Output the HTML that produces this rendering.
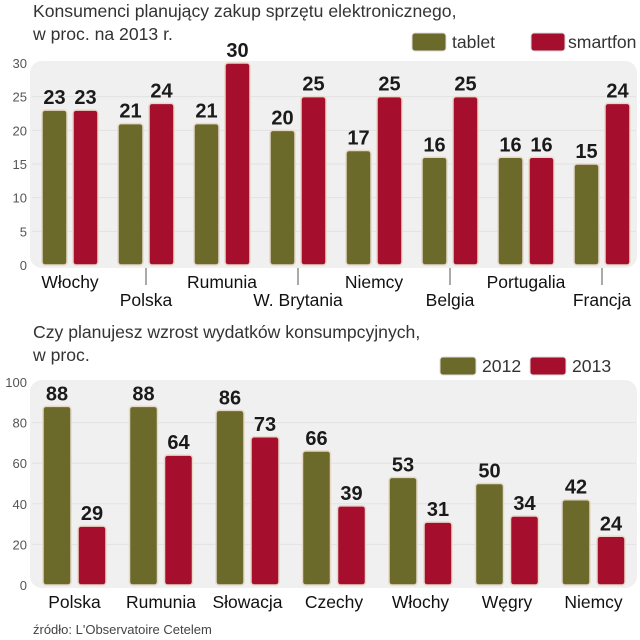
<!DOCTYPE html>
<html><head><meta charset="utf-8"><style>
body{margin:0;background:#fff;width:640px;height:640px;overflow:hidden}
svg{display:block;font-family:"Liberation Sans",sans-serif}
.t{font-size:17.6px;fill:#333}
.tk{font-size:13px;fill:#555}
.v{font-size:20px;font-weight:bold;fill:#1a1a1a;font-family:"Liberation Sans Narrow","Liberation Sans",sans-serif}
.c{font-size:17.5px;fill:#111}
</style></head><body>
<svg width="640" height="640">
<text class="t" x="33" y="17">Konsumenci planujący zakup sprzętu elektronicznego,</text>
<text class="t" x="33" y="40">w proc. na 2013 r.</text>
<g>
<rect x="412" y="33" width="34" height="18" rx="3" fill="#6b6a2a" stroke="#ddd"/><text class="t" x="452" y="48">tablet</text>
<rect x="531" y="33" width="34" height="18" rx="3" fill="#a50f2d" stroke="#ddd"/><text class="t" x="568" y="48">smartfon</text>
</g>
<text class="t" x="33" y="338">Czy planujesz wzrost wydatków konsumpcyjnych,</text>
<text class="t" x="33" y="361">w proc.</text>
<g>
<rect x="440" y="357" width="36" height="18" rx="3" fill="#6b6a2a" stroke="#ddd"/><text class="t" x="482" y="372">2012</text>
<rect x="530" y="357" width="36" height="18" rx="3" fill="#a50f2d" stroke="#ddd"/><text class="t" x="572" y="372">2013</text>
</g>
<g id="c1"></g><g id="c2"></g>
<text x="33" y="634" style="font-size:13px;fill:#444">źródło: L'Observatoire Cetelem</text>
</svg>
<script>
const cats1=["Włochy","Polska","Rumunia","W. Brytania","Niemcy","Belgia","Portugalia","Francja"];
const tablet=[23,21,21,20,17,16,16,15];
const smartfon=[23,24,30,25,25,25,16,24];
const ticks1=[0,5,10,15,20,25,30];
const cats2=["Polska","Rumunia","Słowacja","Czechy","Włochy","Węgry","Niemcy"];
const y2012=[88,88,86,66,53,50,42];
const y2013=[29,64,73,39,31,34,24];
const ticks2=[0,20,40,60,80,100];
const NS="http://www.w3.org/2000/svg";
function mk(p,tag,a,txt){const e=document.createElementNS(NS,tag);for(const k in a)e.setAttribute(k,a[k]);if(txt!==undefined)e.textContent=txt;p.appendChild(e);return e;}
function chart(g,o){
  const y=v=>o.y0-(v/o.max)*(o.y0-o.ytop);
  const bg=mk(g,'rect',{x:30,y:o.ytop-2,width:607,height:o.y0-o.ytop+5,rx:12,fill:'#f0f0f0'});
  
  
  o.ticks.forEach(t=>{
    if(t>0&&t<o.max){const l=mk(g,'line',{x1:32,x2:636,y1:y(t),y2:y(t),stroke:'#e2e2e2','stroke-width':1});
    
    }
    const tx=mk(g,'text',{x:27,y:y(t)+5,'text-anchor':'end',class:'tk'},t);
    
    
  });
  o.cats.forEach((c,i)=>{
    const x0=o.x0+i*o.step;
    [[o.a,'#6b6a2a',0],[o.b,'#a50f2d',1]].forEach(([arr,col,k])=>{
      const bx=x0+k*(o.bw+o.gap), v=arr[i];
      const r=mk(g,'rect',{x:bx,y:y(v),width:o.bw,height:o.y0-y(v),rx:3,fill:col,stroke:'#e8d8c8','stroke-width':1.5});
      
      
      const t=mk(g,'text',{x:bx+o.bw/2,y:y(v)-6,'text-anchor':'middle',class:'v'},v);
      
      
    });
    const cx=x0+o.bw+o.gap/2;
    const low=o.stagger&&i%2==1;
    if(low){const l=mk(g,'line',{x1:cx,x2:cx,y1:o.y0+3,y2:o.y0+20,stroke:'#555'});
      
      }
    const t=mk(g,'text',{x:cx,y:o.y0+(low?41:23),'text-anchor':'middle',class:'c'},c);
    
    
  });
}
chart(document.getElementById('c1'),{n:'chart1',cats:cats1,a:tablet,b:smartfon,sa:'tablet',sb:'smartfon',ticks:ticks1,max:30,y0:265,ytop:63,x0:42,step:76,bw:25,gap:6,stagger:true});
chart(document.getElementById('c2'),{n:'chart2',cats:cats2,a:y2012,b:y2013,sa:'2012',sb:'2013',ticks:ticks2,max:100,y0:585,ytop:382,x0:43,step:86.5,bw:28,gap:7,stagger:false});
</script>
</body></html>
